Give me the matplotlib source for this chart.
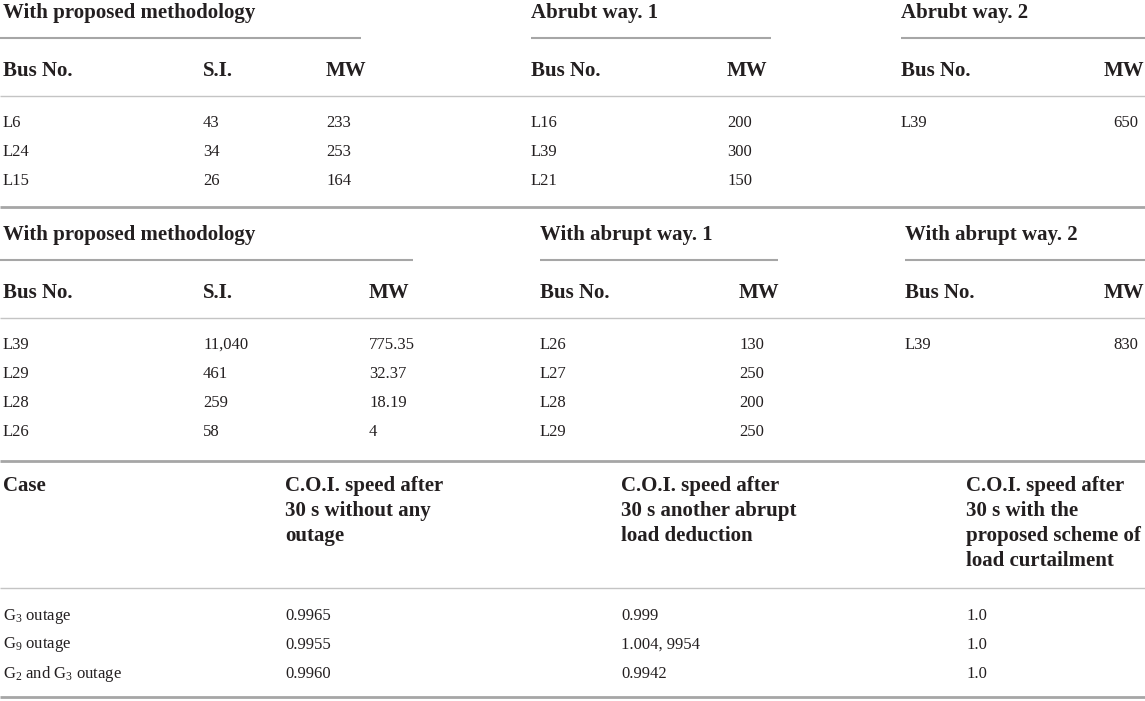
import matplotlib.pyplot as plt

plt.rcParams['font.family'] = ['Liberation Serif', 'DejaVu Serif']
plt.rcParams['mathtext.fontset'] = 'custom'
plt.rcParams['mathtext.rm'] = 'Liberation Serif'
plt.rcParams['mathtext.it'] = 'Liberation Serif:italic'

# Table part 1
t1_groups = ["With proposed methodology", "Abrubt way. 1", "Abrubt way. 2"]
t1_cols = [["Bus No.", "S.I.", "MW"], ["Bus No.", "MW"], ["Bus No.", "MW"]]
t1_prop_bus = ["L6", "L24", "L15"]
t1_prop_si = ["43", "34", "26"]
t1_prop_mw = ["233", "253", "164"]
t1_ab1_bus = ["L16", "L39", "L21"]
t1_ab1_mw = ["200", "300", "150"]
t1_ab2_bus = ["L39"]
t1_ab2_mw = ["650"]

# Table part 2
t2_groups = ["With proposed methodology", "With abrupt way. 1", "With abrupt way. 2"]
t2_cols = [["Bus No.", "S.I.", "MW"], ["Bus No.", "MW"], ["Bus No.", "MW"]]
t2_prop_bus = ["L39", "L29", "L28", "L26"]
t2_prop_si = ["11,040", "461", "259", "58"]
t2_prop_mw = ["775.35", "32.37", "18.19", "4"]
t2_ab1_bus = ["L26", "L27", "L28", "L29"]
t2_ab1_mw = ["130", "250", "200", "250"]
t2_ab2_bus = ["L39"]
t2_ab2_mw = ["830"]

# Table part 3
t3_headers = ["Case",
              "C.O.I. speed after\n30 s without any\noutage",
              "C.O.I. speed after\n30 s another abrupt\nload deduction",
              "C.O.I. speed after\n30 s with the\nproposed scheme of\nload curtailment"]
t3_cases = ["G$_3$ outage", "G$_9$ outage", "G$_2$ and G$_3$ outage"]
t3_no_outage = ["0.9965", "0.9955", "0.9960"]
t3_abrupt = ["0.999", "1.004, 9954", "0.9942"]
t3_proposed = ["1.0", "1.0", "1.0"]

W, H = 1145, 701
TXT = "#231f20"
RULE = "#a6a6a6"
HEAD_FS = 15
BODY_FS = 12
ROW_H = 29

fig = plt.figure(figsize=(W / 100, H / 100), dpi=100)
ax = fig.add_axes([0, 0, 1, 1])
ax.set_xlim(0, W)
ax.set_ylim(H, 0)
ax.axis("off")


def hline(y, x0=0, x1=W, lw=1.2, color=RULE):
    ax.plot([x0, x1], [y, y], color=color, lw=lw, solid_capstyle="butt")


def head(x, y, s):
    # last column sits on the right edge, so pin it there
    if x > W - 40:
        ax.text(W - 1, y, s, fontsize=HEAD_FS, fontweight="bold", color=TXT, va="center", ha="right")
    else:
        ax.text(x, y, s, fontsize=HEAD_FS, fontweight="bold", color=TXT, va="center")


def block(top, groups, group_x, group_x1, cols, col_x, data, bottom):
    # group titles with short rules below
    for g, gx, gx1 in zip(groups, group_x, group_x1):
        head(gx, top, g)
        hline(top + 25, 0 if gx < 10 else gx, gx1, lw=1.5)
    # column headers
    for names, xs in zip(cols, col_x):
        for n, x in zip(names, xs):
            head(x, top + 58, n)
    hline(top + 83, lw=1.0, color="#c4c4c4")
    # body rows
    for cells, xs in zip(data, col_x):
        for col, x in zip(cells, xs):
            for i, v in enumerate(col):
                ax.text(x, top + 110 + i * ROW_H, v, fontsize=BODY_FS, color=TXT, va="center")
    hline(bottom, lw=2.0)


block(13, t1_groups, [3, 531, 901], [361, 771, W],
      t1_cols, [[3, 203, 326], [531, 727], [901, 1113]],
      [[t1_prop_bus, t1_prop_si, t1_prop_mw], [t1_ab1_bus, t1_ab1_mw], [t1_ab2_bus, t1_ab2_mw]],
      207)

block(235, t2_groups, [3, 540, 905], [413, 778, W],
      t2_cols, [[3, 203, 369], [540, 739], [905, 1113]],
      [[t2_prop_bus, t2_prop_si, t2_prop_mw], [t2_ab1_bus, t2_ab1_mw], [t2_ab2_bus, t2_ab2_mw]],
      461)

# part 3
t3_x = [3, 285, 621, 966]
for h, x in zip(t3_headers, t3_x):
    for i, line in enumerate(h.split("\n")):
        head(x, 486 + i * 25, line)
hline(588, lw=1.0, color="#c4c4c4")
for col, x in zip([t3_cases, t3_no_outage, t3_abrupt, t3_proposed], t3_x):
    for i, v in enumerate(col):
        ax.text(x, 616 + i * ROW_H, v, fontsize=BODY_FS, color=TXT, va="center")
hline(697, lw=2.0)

fig.savefig("out.png", dpi=100)
